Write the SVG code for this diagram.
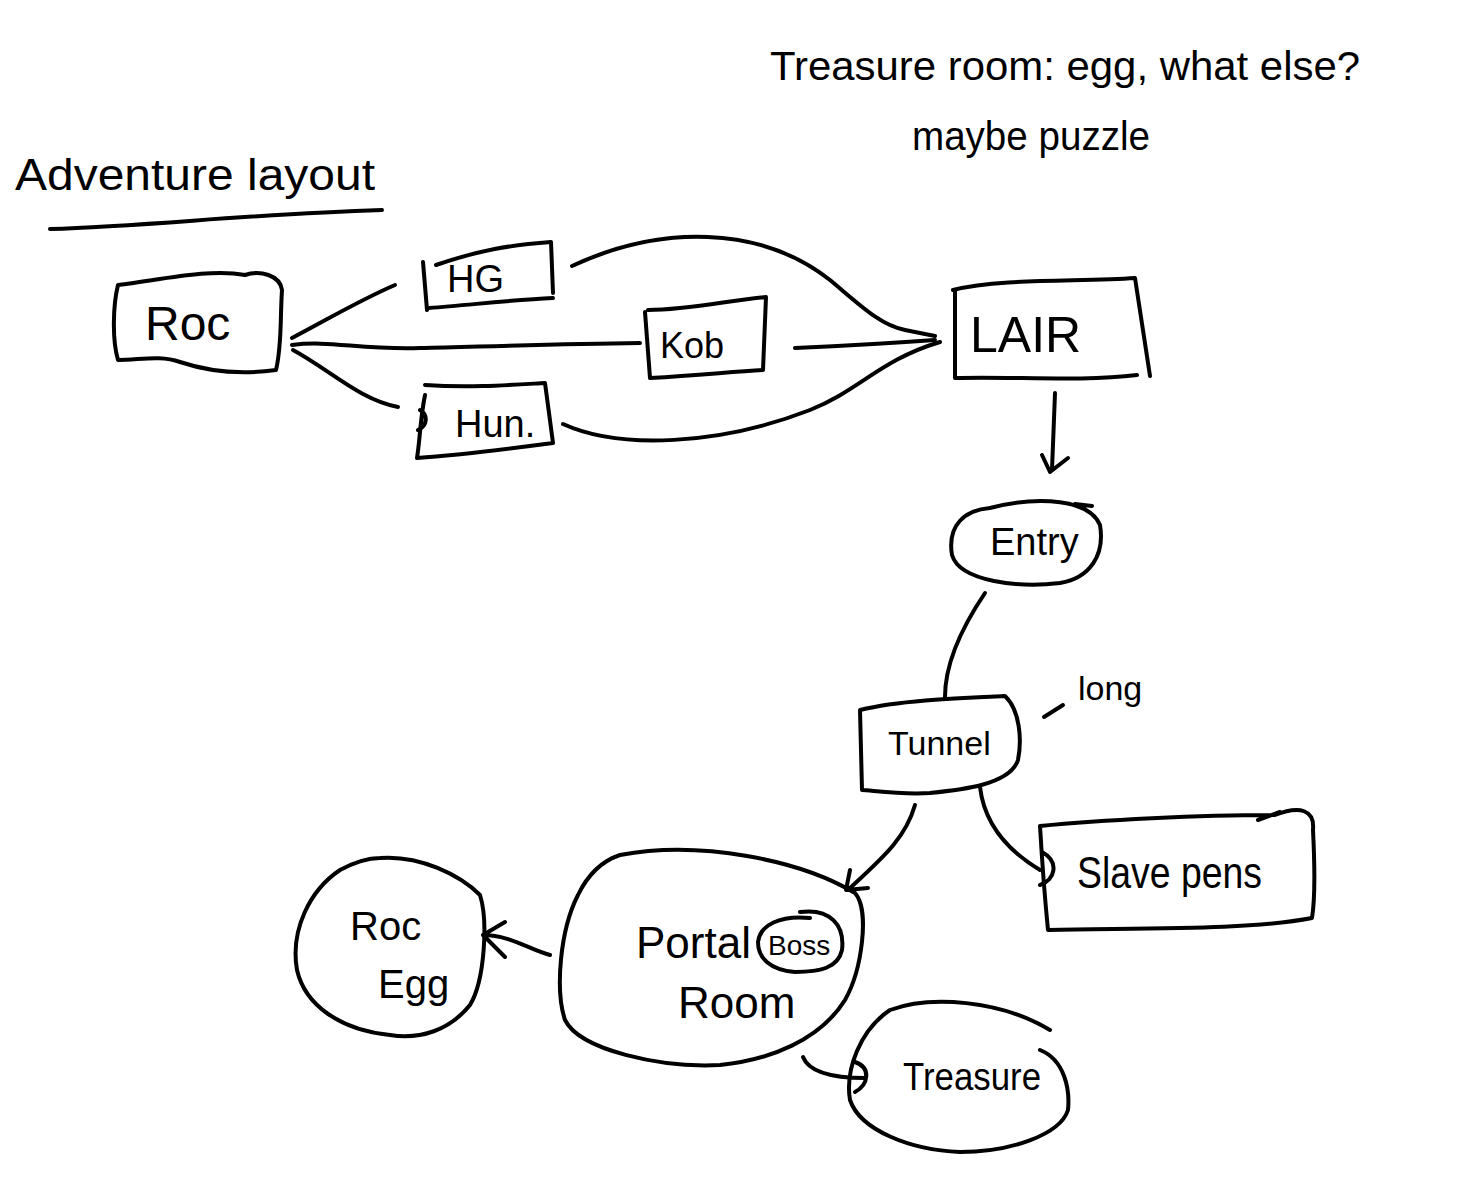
<svg xmlns="http://www.w3.org/2000/svg" width="1476" height="1196" viewBox="0 0 1476 1196">
<style>
.s{fill:none;stroke:#000;stroke-width:4;stroke-linecap:round;stroke-linejoin:round}
.t{font-family:"Liberation Sans",Arial,sans-serif;fill:#000;font-weight:normal}
</style>
<rect width="1476" height="1196" fill="#fff"/>
<g id="notes">
<text class="t" x="15" y="190" font-size="44" textLength="360" lengthAdjust="spacingAndGlyphs">Adventure layout</text>
<path class="s" d="M50 229 C150 226 250 214 382 210"/>
<text class="t" x="770" y="80" font-size="40" textLength="590" lengthAdjust="spacingAndGlyphs">Treasure room: egg, what else?</text>
<text class="t" x="912" y="150" font-size="40" textLength="238" lengthAdjust="spacingAndGlyphs">maybe puzzle</text>
<path class="s" d="M1044 717 L1063 705"/>
<text class="t" x="1078" y="700" font-size="34">long</text>
</g>
<g id="connectors">
<path class="s" d="M292 338 C330 318 360 300 395 285"/>
<path class="s" d="M572 266 C660 225 760 225 830 280 C860 305 880 325 905 330 L935 336"/>
<path class="s" d="M292 345 C330 340 360 350 420 348 C500 346 560 344 640 343"/>
<path class="s" d="M795 348 C840 346 880 344 935 340"/>
<path class="s" d="M293 350 C330 370 360 400 398 407"/>
<path class="s" d="M563 424 C620 450 720 445 810 410 C860 390 880 360 940 342"/>
<path class="s" d="M1055 393 L1052 470 M1042 455 L1050 472 L1068 458"/>
<path class="s" d="M985 593 C960 630 945 665 945 697"/>
<path class="s" d="M915 805 C905 840 880 860 848 890 M850 870 L846 890 L868 888"/>
<path class="s" d="M980 787 C985 830 1015 855 1040 870 M1042 852 C1060 862 1055 880 1040 885"/>
<path class="s" d="M550 955 C530 950 510 935 483 935 M505 922 L483 935 L505 957"/>
<path class="s" d="M803 1057 C810 1075 840 1078 865 1078 M855 1062 C872 1068 868 1085 855 1092"/>
</g>
<g id="roc">
<path class="s" d="M118 285 C160 280 210 268 245 275 C260 270 280 275 282 290 C280 320 282 345 276 370 C240 375 210 372 180 362 C160 355 140 360 118 360 C112 340 113 305 118 285 Z"/>
<text class="t" x="145" y="340" font-size="48">Roc</text>
</g>
<g id="hg">
<path class="s" d="M423 262 L427 310 M436 265 C480 250 510 245 551 242 L553 293 M429 308 C470 305 510 300 553 298"/>
<text class="t" x="447" y="292" font-size="38">HG</text>
</g>
<g id="kob">
<path class="s" d="M645 312 L650 378 C700 375 730 372 763 370 L766 297 C730 300 690 310 648 310"/>
<text class="t" x="660" y="358" font-size="36">Kob</text>
</g>
<g id="hun">
<path class="s" d="M425 385 C470 388 510 385 545 383 L553 443 C500 450 460 455 417 458 C420 440 420 420 425 395 M420 410 C428 415 428 425 418 430"/>
<text class="t" x="455" y="437" font-size="38">Hun.</text>
</g>
<g id="lair">
<path class="s" d="M953 290 C1000 278 1080 282 1135 278 L1150 376 M955 290 L955 378 C1010 376 1080 382 1137 375"/>
<text class="t" x="970" y="352" font-size="50">LAIR</text>
</g>
<g id="entry">
<path class="s" d="M990 508 C1040 495 1090 500 1100 525 C1105 555 1090 578 1060 583 C1020 588 960 582 952 555 C947 525 965 510 990 508 M1075 504 L1092 506"/>
<text class="t" x="990" y="555" font-size="38">Entry</text>
</g>
<g id="tunnel">
<path class="s" d="M860 710 C900 700 960 698 1005 696 C1020 710 1022 740 1018 760 C1010 785 960 790 930 793 C900 795 870 790 862 790 Z"/>
<text class="t" x="888" y="755" font-size="34">Tunnel</text>
</g>
<g id="slave">
<path class="s" d="M1040 826 C1100 820 1200 815 1275 815 C1300 805 1315 810 1313 830 C1315 870 1315 900 1312 918 C1250 930 1150 928 1048 930 C1045 900 1042 860 1040 826 M1258 820 L1280 812"/>
<text class="t" x="1077" y="888" font-size="44" textLength="185" lengthAdjust="spacingAndGlyphs">Slave pens</text>
</g>
<g id="portal">
<path class="s" d="M620 855 C700 840 800 860 855 893 C870 910 862 970 845 1000 C820 1040 770 1060 720 1065 C660 1068 580 1050 565 1020 C555 990 560 930 578 895 C590 870 605 860 620 855 Z"/>
<text class="t" x="636" y="958" font-size="44">Portal</text>
<text class="t" x="678" y="1018" font-size="44">Room</text>
</g>
<g id="boss">
<path class="s" d="M800 912 C830 908 845 925 842 950 C838 968 820 972 795 972 C770 970 758 958 758 942 C760 925 780 915 810 918"/>
<text class="t" x="768" y="955" font-size="28">Boss</text>
</g>
<g id="rocegg">
<path class="s" d="M380 858 C420 855 460 875 480 895 C488 920 485 980 470 1005 C450 1030 420 1040 390 1035 C340 1030 305 1005 297 970 C290 930 310 890 340 870 C355 862 370 858 380 858 Z"/>
<text class="t" x="350" y="940" font-size="40">Roc</text>
<text class="t" x="378" y="998" font-size="40">Egg</text>
</g>
<g id="treasure">
<path class="s" d="M890 1010 C930 995 1000 1000 1050 1030 M1040 1050 C1065 1060 1070 1090 1068 1110 C1060 1135 1010 1152 960 1152 C910 1150 860 1130 850 1100 C845 1070 860 1030 890 1010"/>
<text class="t" x="903" y="1090" font-size="38" textLength="138" lengthAdjust="spacingAndGlyphs">Treasure</text>
</g>
</svg>
